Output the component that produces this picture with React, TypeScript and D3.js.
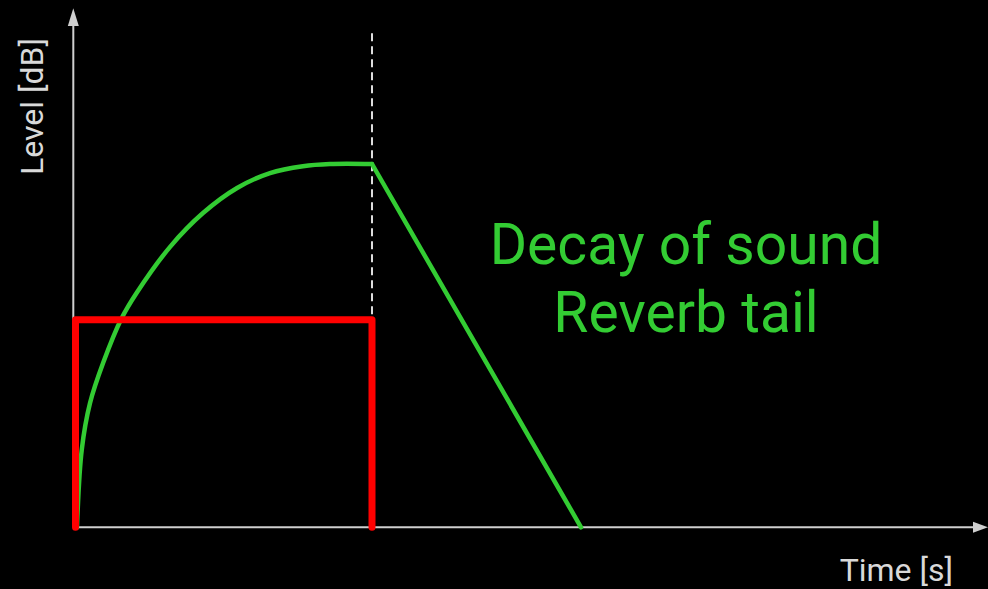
import React from "react";
import * as d3 from "d3";

const W = 988;
const H = 589;

// Attack (green curve) — time [unit], level [unit]
const attackTime = [0.005, 0.021, 0.049, 0.093, 0.156, 0.206, 0.319, 0.43, 0.545, 0.656, 0.767, 0.858, 1.0];
const attackLevel = [0, 0.213, 0.342, 0.452, 0.576, 0.645, 0.772, 0.865, 0.934, 0.975, 0.994, 1.0, 1.0];
// Decay (reverb tail)
const decayTime = [1.0, 1.705];
const decayLevel = [1.0, 0];
// Direct sound (red rectangle)
const directTime = [0, 0, 1, 1];
const directLevel = [0, 0.571, 0.571, 0];
// Note-off marker
const markerTime = 1.0;
const markerTop = 1.36;

const labels = ["Decay of sound", "Reverb tail"];
const xLabel = "Time [s]";
const yLabel = "Level [dB]";

export default function App() {
  const x = d3.scaleLinear().domain([0, 1]).range([75.5, 372]);
  const y = d3.scaleLinear().domain([0, 1]).range([527.3, 164]);

  const axisX0 = 73.3;
  const axisY0 = 527.3;

  const attackPts: [number, number][] = attackTime.map((t, i) => [t, attackLevel[i]]);
  const decayPts: [number, number][] = decayTime.map((t, i) => [t, decayLevel[i]]);
  const directPts: [number, number][] = directTime.map((t, i) => [t, directLevel[i]]);

  const curve = d3.line<[number, number]>().x(d => x(d[0])).y(d => y(d[1])).curve(d3.curveCatmullRom.alpha(0.5));
  const lin = d3.line<[number, number]>().x(d => x(d[0])).y(d => y(d[1]));

  const axisColor = "#cfcfcf";
  const textColor = "#d9d9d9";
  const green = "#33cc33";
  const red = "#ff0000";

  return (
    <svg width={W} height={H} style={{ position: "absolute", left: 0, top: 0, display: "block" }}
      fontFamily="Roboto, sans-serif">
      <rect x={0} y={0} width={W} height={H} fill="#000" />
      {/* axes */}
      <line x1={axisX0} y1={axisY0} x2={axisX0} y2={22} stroke={axisColor} strokeWidth={2} />
      <path d={`M${axisX0},8.3 L${axisX0 - 5.5},26 L${axisX0 + 5.5},26 Z`} fill={axisColor} />
      <line x1={axisX0} y1={axisY0} x2={976} y2={axisY0} stroke={axisColor} strokeWidth={2} />
      <path d={`M988,${axisY0} L973,${axisY0 - 5.5} L973,${axisY0 + 5.5} Z`} fill={axisColor} />
      {/* dashed marker */}
      <line x1={x(markerTime)} x2={x(markerTime)} y1={y(markerTop)} y2={y(directLevel[1])}
        stroke="#dddddd" strokeWidth={2} strokeDasharray="8,5" />
      {/* green */}
      <path d={curve(attackPts) || ""} fill="none" stroke={green} strokeWidth={4.5} strokeLinecap="round" />
      <path d={lin(decayPts) || ""} fill="none" stroke={green} strokeWidth={4.5} strokeLinecap="round" />
      {/* red */}
      <path d={lin(directPts) || ""} fill="none" stroke={red} strokeWidth={7} strokeLinecap="round" strokeLinejoin="round" />
      {/* labels */}
      <text x={686} y={264} textAnchor="middle" fontSize={57} fill={green}>{labels[0]}</text>
      <text x={686} y={332} textAnchor="middle" fontSize={57} fill={green}>{labels[1]}</text>
      <text x={953} y={581} textAnchor="end" fontSize={32} fill={textColor}>{xLabel}</text>
      <text transform="translate(43,106.5) rotate(-90)" textAnchor="middle" fontSize={32} fill={textColor}>{yLabel}</text>
    </svg>
  );
}
